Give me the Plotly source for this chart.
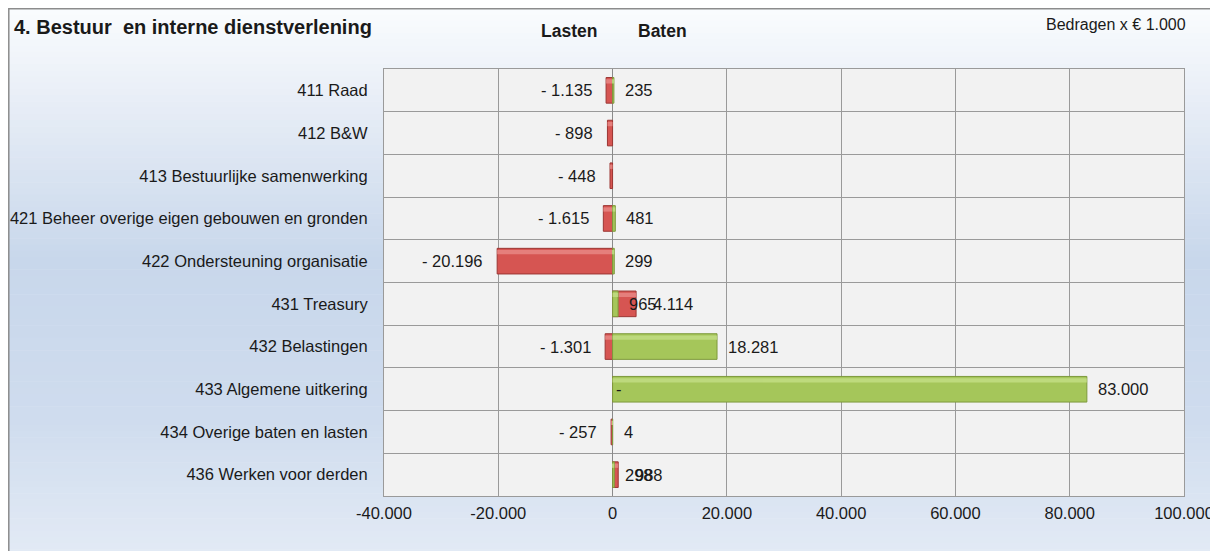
import plotly.graph_objects as go

# ---------------- data ----------------
categories = [
    "411 Raad",
    "412 B&W",
    "413 Bestuurlijke samenwerking",
    "421 Beheer overige eigen gebouwen en gronden",
    "422 Ondersteuning organisatie",
    "431 Treasury",
    "432 Belastingen",
    "433 Algemene uitkering",
    "434 Overige baten en lasten",
    "436 Werken voor derden",
]
lasten = [-1135, -898, -448, -1615, -20196, 4114, -1301, 0, -257, 988]
baten = [235, None, None, 481, 299, 965, 18281, 83000, 4, 298]

x_tickvals = [-40000, -20000, 0, 20000, 40000, 60000, 80000, 100000]
x_ticktext = ["-40.000", "-20.000", "0", "20.000", "40.000", "60.000", "80.000", "100.000"]

title_text = "4. Bestuur  en interne dienstverlening"
header_lasten = "Lasten"
header_baten = "Baten"
unit_text = "Bedragen x \u20ac 1.000"

# ---------------- geometry helpers (figure pixel coords) ----------------
W, H = 1210, 543
L, R, T, B = 376, 1176, 61, 488
FONT = "Liberation Sans, Arial, sans-serif"
FS = 16.5


def px(xp):
    return (xp - L) / (R - L)


def py(yp):
    return (B - yp) / (B - T)


def fmt(v):
    if v == 0:
        return "-"
    s = f"{abs(v):,}".replace(",", ".")
    return ("- " + s) if v < 0 else s


fig = go.Figure()

RED = "#d65552"
RED_LINE = "#9c3633"
RED_HI = "#e98a87"
GREEN = "#a5c65a"
GREEN_LINE = "#7e9a3c"
GREEN_HI = "#c4de86"
BAR_W = 0.6

fig.add_trace(go.Bar(
    y=categories, x=lasten, orientation="h", name="Lasten",
    marker=dict(color=RED, line=dict(color=RED_LINE, width=1)),
    width=BAR_W, hoverinfo="skip",
))
fig.add_trace(go.Bar(
    y=categories, x=lasten, orientation="h", showlegend=False,
    marker=dict(color=RED_HI, line=dict(width=0)),
    width=0.1, offset=-BAR_W / 2 + 0.04, hoverinfo="skip", opacity=0.8,
))
fig.add_trace(go.Bar(
    y=categories, x=baten, orientation="h", name="Baten",
    marker=dict(color=GREEN, line=dict(color=GREEN_LINE, width=1)),
    width=BAR_W, hoverinfo="skip",
))
fig.add_trace(go.Bar(
    y=categories, x=baten, orientation="h", showlegend=False,
    marker=dict(color=GREEN_HI, line=dict(width=0)),
    width=0.1, offset=-BAR_W / 2 + 0.04, hoverinfo="skip", opacity=0.8,
))

shapes = []
# gradient background (chart area)
stops = [(0, (250, 252, 254)), (112, (228, 235, 245)), (252, (200, 215, 235)),
         (412, (207, 220, 238)), (543, (226, 234, 245))]
N = 90
y0p, y1p = 0, 560
for i in range(N):
    a = y0p + (y1p - y0p) * i / N
    b = y0p + (y1p - y0p) * (i + 1) / N
    m = (a + b) / 2
    for j in range(len(stops) - 1):
        if stops[j][0] <= m <= stops[j + 1][0] or j == len(stops) - 2:
            s0, c0 = stops[j]
            s1, c1 = stops[j + 1]
            t = min(max((m - s0) / (s1 - s0), 0), 1)
            c = tuple(int(round(c0[k] + (c1[k] - c0[k]) * t)) for k in range(3))
            break
    shapes.append(dict(type="rect", xref="paper", yref="paper", layer="below",
                       x0=px(0), x1=px(1230), y0=py(b + 0.5), y1=py(a),
                       fillcolor=f"rgb{c}", line=dict(width=0)))
# plot area background
shapes.append(dict(type="rect", xref="x domain", yref="y domain", layer="below",
                   x0=0, x1=1, y0=0, y1=1, fillcolor="#f2f2f2", line=dict(width=0)))
# frame
shapes.append(dict(type="rect", xref="paper", yref="paper", layer="above",
                   x0=px(0.8), x1=px(1240), y0=py(570), y1=py(0.8),
                   fillcolor="rgba(0,0,0,0)", line=dict(color="#8c8c8c", width=1.5)))

lab_font = dict(size=FS, color="#1a1a1a", family=FONT)
annotations = []
for c, v in zip(categories, lasten):
    if v is None:
        continue
    if v < 0:
        annotations.append(dict(x=v, y=c, xref="x", yref="y", text=fmt(v), showarrow=False,
                                xanchor="right", xshift=-12, font=lab_font))
    else:
        annotations.append(dict(x=v, y=c, xref="x", yref="y", text=fmt(v), showarrow=False,
                                xanchor="left", xshift=(1 if v == 0 else 15), font=lab_font))
for c, v in zip(categories, baten):
    if v is None:
        continue
    annotations.append(dict(x=v, y=c, xref="x", yref="y", text=fmt(v), showarrow=False,
                            xanchor="left", xshift=9, font=lab_font))

annotations += [
    dict(x=px(4), y=py(19), xref="paper", yref="paper", text=f"<b>{title_text}</b>",
         showarrow=False, xanchor="left", yanchor="middle",
         font=dict(size=20, color="#1a1a1a", family=FONT)),
    dict(x=px(561), y=py(23), xref="paper", yref="paper", text=f"<b>{header_lasten}</b>",
         showarrow=False, xanchor="center", yanchor="middle",
         font=dict(size=17.5, color="#1a1a1a", family=FONT)),
    dict(x=px(654), y=py(23), xref="paper", yref="paper", text=f"<b>{header_baten}</b>",
         showarrow=False, xanchor="center", yanchor="middle",
         font=dict(size=17.5, color="#1a1a1a", family=FONT)),
    dict(x=px(1180), y=py(16), xref="paper", yref="paper", text=unit_text,
         showarrow=False, xanchor="right", yanchor="middle",
         font=dict(size=16, color="#1a1a1a", family=FONT)),
]

fig.update_layout(
    width=W, height=H,
    margin=dict(l=L, r=W - R, t=T, b=H - B, pad=0, autoexpand=False),
    paper_bgcolor="#ffffff",
    plot_bgcolor="rgba(0,0,0,0)",
    barmode="overlay",
    showlegend=False,
    shapes=shapes,
    annotations=annotations,
    font=dict(family=FONT, size=FS, color="#1a1a1a"),
)
fig.update_xaxes(
    range=[-40000, 100000], tickvals=x_tickvals, ticktext=x_ticktext,
    showgrid=True, gridcolor="#9a9a9a", gridwidth=1,
    zeroline=True, zerolinecolor="#8a8a8a", zerolinewidth=1,
    showline=True, linecolor="#9a9a9a", mirror=True,
    ticks="", ticklabelstandoff=2, automargin=False,
    tickfont=dict(size=FS, color="#1a1a1a", family=FONT),
)
fig.update_yaxes(
    type="category", categoryorder="array", categoryarray=categories,
    autorange="reversed", tickson="boundaries",
    showgrid=True, gridcolor="#9a9a9a", gridwidth=1,
    showline=True, linecolor="#9a9a9a", mirror=True,
    ticks="", ticklabelstandoff=12, automargin=False,
    tickfont=dict(size=FS, color="#1a1a1a", family=FONT),
)

fig.write_html("out.html")
